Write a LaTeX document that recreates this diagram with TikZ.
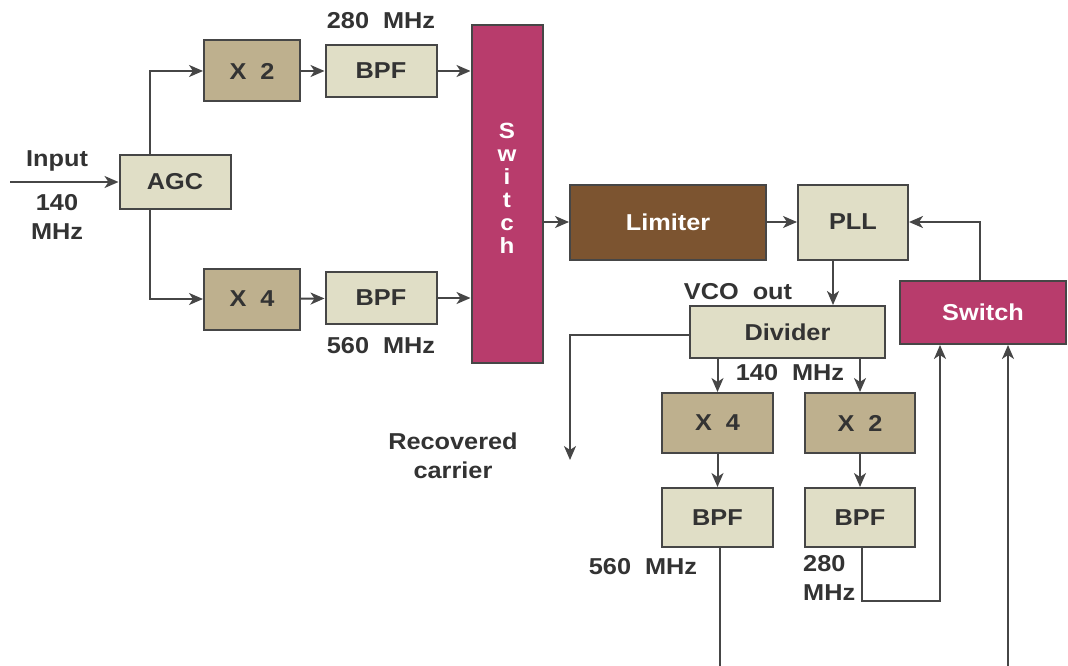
\documentclass[tikz,border=0pt]{standalone}
\usepackage{fontspec}
\setmainfont{Liberation Sans}[FakeStretch=1.1]
\usetikzlibrary{arrows.meta}
\definecolor{boxlight}{HTML}{E0DEC6}
\definecolor{boxtan}{HTML}{BEB08E}
\definecolor{magbox}{HTML}{B83C6C}
\definecolor{brownbox}{HTML}{7C5430}
\definecolor{edgecol}{HTML}{464646}
\definecolor{txtcol}{HTML}{333333}
\begin{document}
\begin{tikzpicture}[x=1pt,y=-1pt,
  blk/.style={draw=edgecol,line width=2pt,inner sep=0pt,text=txtcol,
    font=\bfseries\fontsize{23}{27}\selectfont},
  light/.style={blk,fill=boxlight},
  tan/.style={blk,fill=boxtan},
  mag/.style={blk,fill=magbox,text=white},
  brn/.style={blk,fill=brownbox,text=white},
  lbl/.style={inner sep=0pt,text=txtcol,font=\bfseries\fontsize{23}{29}\selectfont},
  arr/.style={draw=edgecol,line width=2pt,-{Stealth[length=14pt,width=12pt,inset=4pt]}},
  ln/.style={draw=edgecol,line width=2pt}]
\useasboundingbox[fill=white] (0,0) rectangle (1068,666);

% left part
\node[light,minimum width=111pt,minimum height=54pt] (agc) at (175,182) {AGC};
\node[tan,minimum width=96pt,minimum height=61pt] (x2a) at (252,71) {X\ \ 2};
\node[light,minimum width=111pt,minimum height=52pt] (bpfa) at (381,71) {BPF};
\node[tan,minimum width=96pt,minimum height=61pt] (x4a) at (252,299) {X\ \ 4};
\node[light,minimum width=111pt,minimum height=52pt] (bpfb) at (381,298) {BPF};
\node[mag,minimum width=71pt,minimum height=338pt,align=center,text depth=12pt,
  font=\bfseries\fontsize{22}{23}\selectfont] (swa) at (507,194) {S\\w\\i\\t\\c\\h};

% right part
\node[brn,minimum width=196pt,minimum height=75pt] (lim) at (668,222) {Limiter};
\node[light,minimum width=110pt,minimum height=75pt] (pll) at (853,222) {PLL};
\node[mag,minimum width=166pt,minimum height=63pt] (swb) at (983,312.5) {Switch};
\node[light,minimum width=195pt,minimum height=52pt] (div) at (787.5,332) {Divider};
\node[tan,minimum width=111pt,minimum height=60pt] (x4b) at (717.5,423) {X\ \ 4};
\node[tan,minimum width=110pt,minimum height=60pt] (x2b) at (860,423) {X\ \ 2};
\node[light,minimum width=111pt,minimum height=59pt] (bpfc) at (717.5,517.5) {BPF};
\node[light,minimum width=110pt,minimum height=59pt] (bpfd) at (860,517.5) {BPF};

% labels
\node[lbl] (l280) at (381,21) {280\ \ MHz};
\node[lbl] (l560) at (381,346) {560\ \ MHz};
\node[lbl] (linput) at (57,161) {Input};
\node[lbl,align=center] (l140) at (57,217) {140\\MHz};
\node[lbl] (lvco) at (738,292) {VCO\ \ out};
\node[lbl,align=center] (lrec) at (453,456) {Recovered\\carrier};
\node[lbl] (l140b) at (790,373) {140\ \ MHz};
\node[lbl] (l560b) at (643,567) {560\ \ MHz};
\node[lbl,align=left,anchor=west] (l280b) at (803,578) {280\\MHz};

% connectors
\coordinate (in) at (10,182);
\draw[arr] (in) -- (agc.west);
\draw[arr] ([xshift=-25pt]agc.north) |- (x2a.west);
\draw[arr] ([xshift=-25pt]agc.south) |- (x4a.west);
\draw[arr] (x2a) -- (bpfa);
\draw[arr] (x4a) -- (bpfb);
\draw[arr] (bpfa.east) -- (bpfa.east -| swa.west);
\draw[arr] (bpfb.east) -- (bpfb.east -| swa.west);
\draw[arr] (swa.east |- lim.west) -- (lim.west);
\draw[arr] (lim) -- (pll);
\draw[arr] ([xshift=-3pt]swb.north) |- (pll.east);
\draw[arr] ([xshift=-20pt]pll.south) -- ([xshift=-20pt]pll.south |- div.north);
\coordinate (rc) at (570,460);
\draw[arr] ([yshift=-3pt]div.west) -| (rc);
\draw[arr] (div.south -| x4b.north) -- (x4b.north);
\draw[arr] (div.south -| x2b.north) -- (x2b.north);
\draw[arr] (x4b) -- (bpfc);
\draw[arr] (x2b) -- (bpfd);
\coordinate (c560) at (720,667);
\draw[ln] ([xshift=2.5pt]bpfc.south) -- (c560);
\draw[arr] ([xshift=2pt]bpfd.south) -- ++(0,53) -| ([xshift=-43pt]swb.south);
\coordinate (bot) at (1008,667);
\draw[arr] (bot) -- (bot |- swb.south);
\end{tikzpicture}
\end{document}
